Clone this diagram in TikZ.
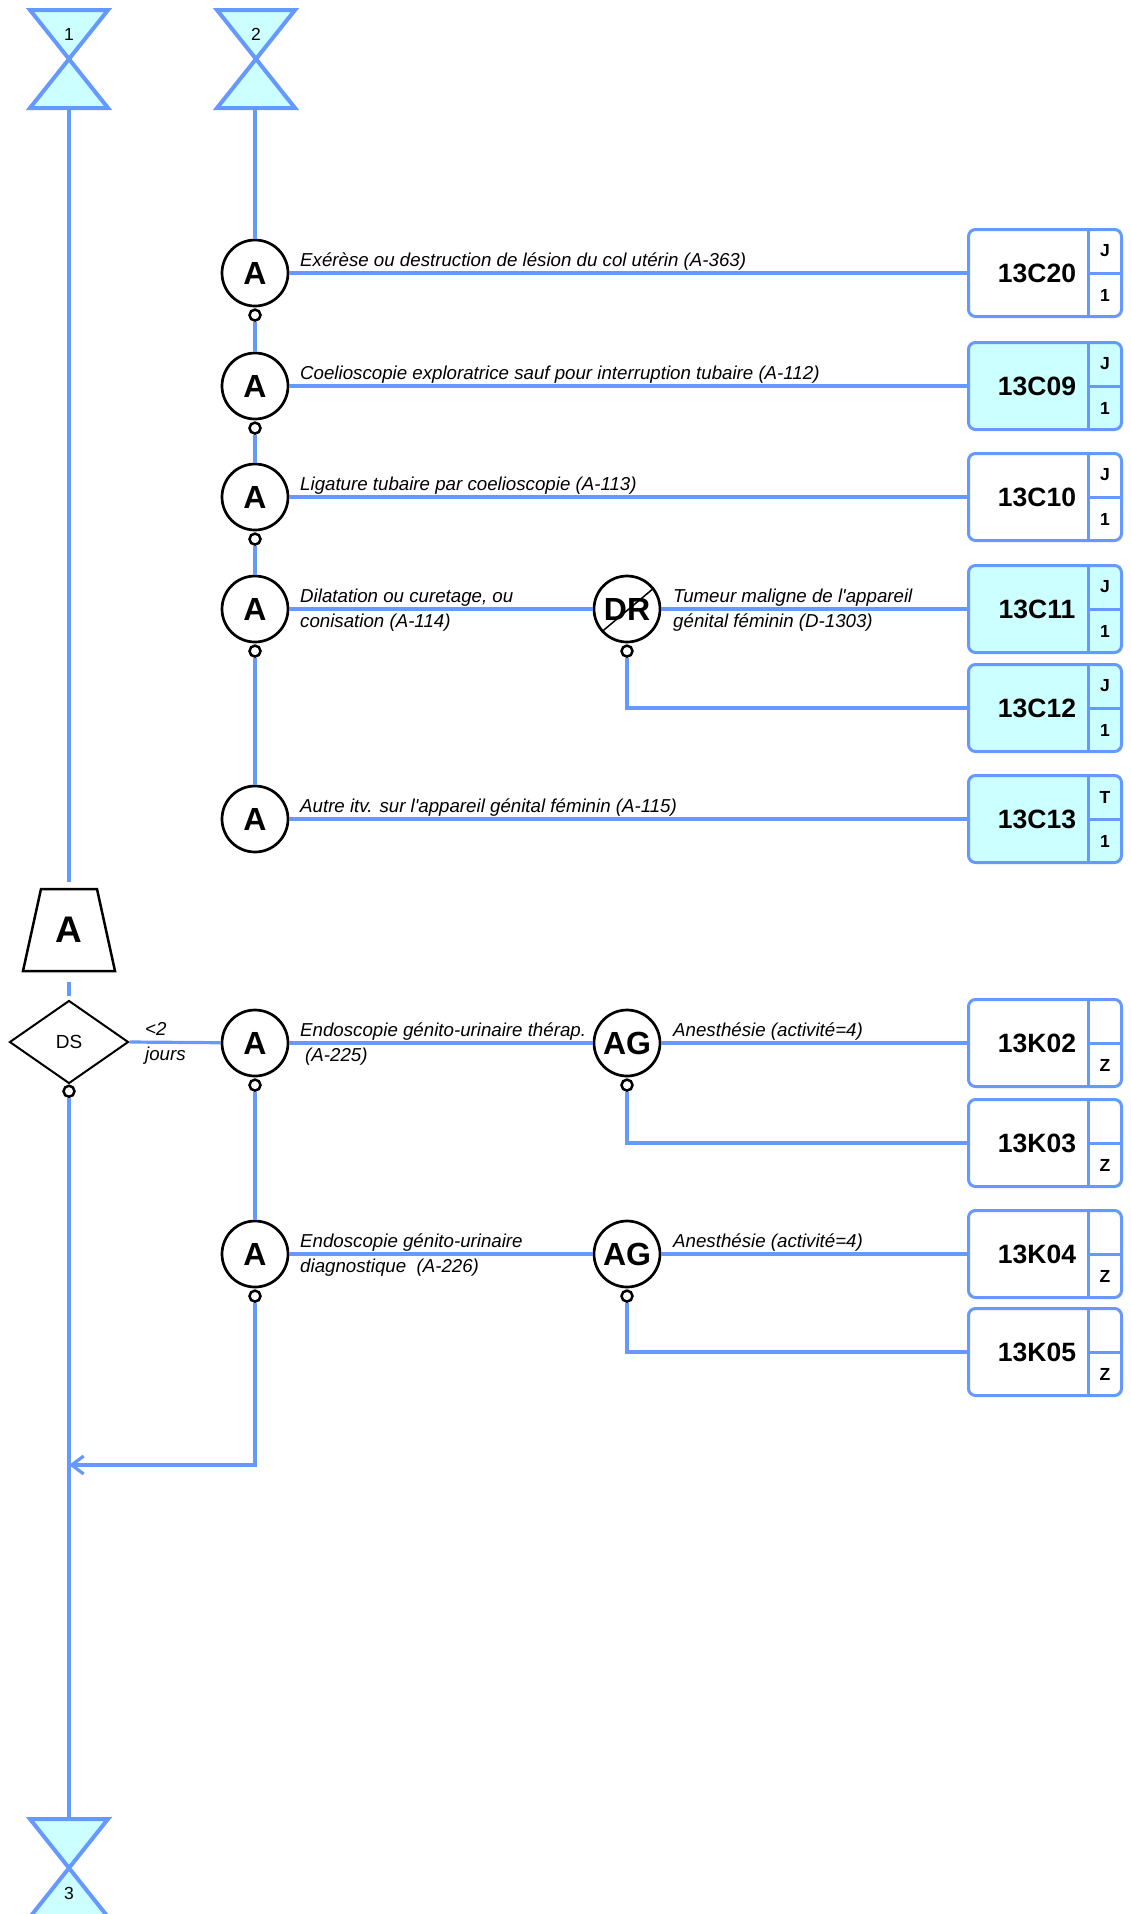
\documentclass[tikz,border=0pt]{standalone}
\usepackage{fontspec}
\setmainfont{Liberation Sans}
\usepackage{tikz}
\usetikzlibrary{arrows.meta, positioning, shapes.geometric, calc}
\definecolor{lblue}{RGB}{102, 153, 255}
\definecolor{lcyan}{RGB}{204, 255, 255}

\begin{document}
\begin{tikzpicture}[x=1pt, y=-1pt,
    flow/.style={draw=lblue, line width=3.2pt},
    fleche/.style={flow, -{Straight Barb[length=12pt, width=18pt]}},
    renvoi/.style={draw=lblue, fill=lcyan, line width=4pt},
    num/.style={inner sep=0pt, font=\fontsize{17.5}{17.5}\selectfont},
    acte/.style={circle, draw=black, line width=2.7pt, fill=white, minimum size=66pt, inner sep=0pt, outer sep=1.35pt, font=\fontsize{32}{32}\selectfont\bfseries},
    sortie/.style={circle, draw=black, line width=2.5pt, fill=white, minimum size=11pt, inner sep=0pt, outer sep=1.25pt, below=1pt of #1},
    gme/.style={draw=lblue, line width=3pt, rounded corners=7pt, minimum width=153pt, minimum height=87pt, inner sep=0pt, outer sep=1.5pt, font=\fontsize{26.5}{26.5}\selectfont\bfseries, execute at end node={\hspace{16pt}},
        path picture={\draw[lblue, line width=3pt] ($(path picture bounding box.north east)+(-33,0)$) -- ($(path picture bounding box.south east)+(-33,0)$);
                      \draw[lblue, line width=3pt] ($(path picture bounding box.east)+(-33,0)$) -- (path picture bounding box.east);}},
    cell/.style={inner sep=0pt, font=\fontsize{17.5}{17.5}\selectfont\bfseries},
    lbl/.style={inner sep=0pt, anchor=base west, align=left, font=\fontsize{18.7}{25}\selectfont\itshape},
    decision/.style={diamond, draw=black, line width=2pt, fill=white, aspect=1.43, minimum width=119pt, minimum height=83pt, inner sep=0pt, outer sep=1pt, font=\fontsize{19}{19}\selectfont}
]
    \useasboundingbox (0,0) rectangle (1131,1914);

    % Connectors 1, 2, 3
    \draw[renvoi] (30,10) -- (108,10) -- (30,108) -- (108,108) -- cycle;
    \node[num] (n1) at (69,34) {1};
    \coordinate (c1) at (69,108);
    \draw[renvoi] (217,10) -- (295,10) -- (217,108) -- (295,108) -- cycle;
    \node[num] (n2) at (256,34) {2};
    \coordinate (c2) at (255,106);
    \draw[renvoi] (30,1819) -- (108,1819) -- (30,1917) -- (108,1917) -- cycle;
    \node[num] (n3) at (69,1893) {3};
    \coordinate (c3) at (69,1819);

    % Acts, upper chain
    \node[acte] (a1) at (255,273) {A};
    \node[sortie=a1] (a1p) {};
    \node[acte] (a2) at (255,386) {A};
    \node[sortie=a2] (a2p) {};
    \node[acte] (a3) at (255,497) {A};
    \node[sortie=a3] (a3p) {};
    \node[acte] (a4) at (255,609) {A};
    \node[sortie=a4] (a4p) {};
    \node[acte] (a5) at (255,819) {A};
    \node[acte] (dr) at (627,609) {DR};
    \node[sortie=dr] (drp) {};
    \draw[line width=1.5pt] (dr.222) -- (dr.38);

    % Trapezoid and decision
    \draw[line width=2.5pt, fill=white] (41,889) -- (97,889) -- (115,971) -- (23,971) -- cycle;
    \node[inner sep=0pt, minimum height=82pt, font=\fontsize{37}{37}\selectfont\bfseries] (trapA) at (69,930) {A};
    \node[decision] (ds) at (69,1042) {DS};
    \node[sortie=ds, below=0pt of ds] (dsp) {};
    \coordinate (retour) at (69,1465);

    % Acts, lower chain
    \node[acte] (a6) at (255,1043) {A};
    \node[sortie=a6] (a6p) {};
    \node[acte] (a7) at (255,1254) {A};
    \node[sortie=a7] (a7p) {};
    \node[acte] (ag1) at (627,1043) {AG};
    \node[sortie=ag1] (ag1p) {};
    \node[acte] (ag2) at (627,1254) {AG};
    \node[sortie=ag2] (ag2p) {};

    % GHM boxes
    \foreach \code/\y/\hi/\lo/\fond in {13C20/273/J/1/white, 13C09/386/J/1/lcyan, 13C10/497/J/1/white, 13C11/609/J/1/lcyan, 13C12/708/J/1/lcyan, 13C13/819/T/1/lcyan, 13K02/1043//Z/white, 13K03/1143//Z/white, 13K04/1254//Z/white, 13K05/1352//Z/white}
    {
        \node[gme, fill=\fond] (g\code) at (1045,\y) {\code};
        \node[cell] (h\code) at ($(g\code.north east)+(-18,23)$) {\hi};
        \node[cell] (l\code) at ($(g\code.south east)+(-18,-23)$) {\lo};
    }

    % Links
    \draw[flow, shorten >=7pt] (c1) -- (trapA.north);
    \draw[flow, shorten <=11pt, shorten >=4pt] (trapA.south) -- (ds.north);
    \draw[flow] (dsp) -- (c3);
    \draw[flow] (c2) -- (a1);
    \draw[flow] (a1p) -- (a2);
    \draw[flow] (a2p) -- (a3);
    \draw[flow] (a3p) -- (a4);
    \draw[flow] (a4p) -- (a5);
    \draw[flow] (a1) -- (g13C20);
    \draw[flow] (a2) -- (g13C09);
    \draw[flow] (a3) -- (g13C10);
    \draw[flow] (a4) -- (dr);
    \draw[flow] (dr) -- (g13C11);
    \draw[flow] (drp) |- (g13C12);
    \draw[flow] (a5) -- (g13C13);
    \draw[flow] (ds.east) -- (a6);
    \draw[flow] (a6p) -- (a7);
    \draw[flow] (a6) -- (ag1);
    \draw[flow] (ag1) -- (g13K02);
    \draw[flow] (ag1p) |- (g13K03);
    \draw[flow] (a7) -- (ag2);
    \draw[flow] (ag2) -- (g13K04);
    \draw[flow] (ag2p) |- (g13K05);
    \draw[fleche] (a7p) |- (retour);

    % Labels (two-line labels sit on their last baseline)
    \node[lbl] (t1) at (300,266) {Exérèse ou destruction de lésion du col utérin (A-363)};
    \node[lbl] (t2) at (300,379) {Coelioscopie exploratrice sauf pour interruption tubaire (A-112)};
    \node[lbl] (t3) at (300,490) {Ligature tubaire par coelioscopie (A-113)};
    \node[lbl] (t4) at (300,627) {Dilatation ou curetage, ou\\conisation (A-114)};
    \node[lbl] (t5) at (673,627) {Tumeur maligne de l\textquotesingle appareil\\génital féminin (D-1303)};
    \node[lbl] (t6) at (300,812) {Autre itv. sur l\textquotesingle appareil génital féminin (A-115)};
    \node[lbl] (t7) at (145,1060) {<2\\jours};
    \node[lbl] (t8) at (300,1061) {Endoscopie génito-urinaire thérap.\\\hspace*{5pt}(A-225)};
    \node[lbl] (t9) at (673,1036) {Anesthésie (activité=4)};
    \node[lbl] (t10) at (300,1272) {Endoscopie génito-urinaire\\diagnostique~~(A-226)};
    \node[lbl] (t11) at (673,1247) {Anesthésie (activité=4)};
\end{tikzpicture}
\end{document}
